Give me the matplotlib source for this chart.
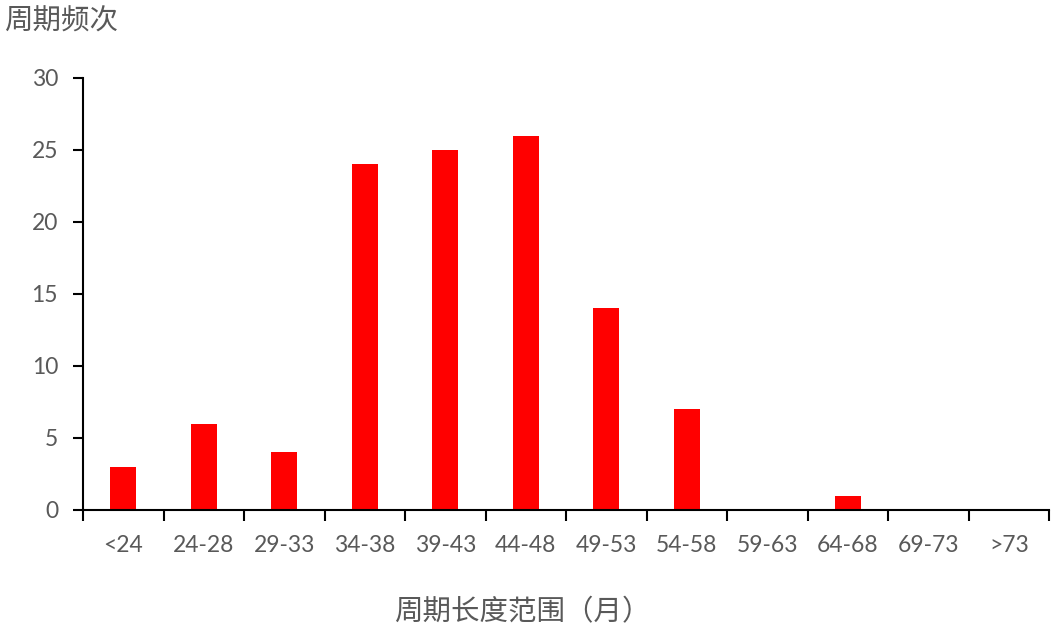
import matplotlib
matplotlib.use('Agg')
import matplotlib.pyplot as plt
import numpy as np

plt.rcParams['font.family'] = ['Lato', 'Noto Sans CJK SC', 'DejaVu Sans']

categories = ['<24', '24-28', '29-33', '34-38', '39-43', '44-48',
              '49-53', '54-58', '59-63', '64-68', '69-73', '>73']
counts = [3, 6, 4, 24, 25, 26, 14, 7, 0, 1, 0, 0]

text_color = '#595959'

fig = plt.figure(figsize=(10.62, 6.33), dpi=100)
ax = fig.add_axes([83 / 1062, 123 / 633, (1049 - 83) / 1062, (510 - 78) / 633])

x = np.arange(len(categories))
ax.bar(x, counts, width=0.32, color='#ff0000', zorder=2)

ax.set_xlim(-0.5, len(categories) - 0.5)
ax.set_ylim(0, 30)
ax.set_yticks(range(0, 31, 5))
ax.set_xticks(x)
ax.set_xticklabels(categories)
ax.set_xticks(np.arange(-0.5, len(categories), 1), minor=True)

ax.tick_params(axis='x', which='major', length=0, pad=18, labelsize=16.5, labelcolor=text_color)
ax.tick_params(axis='x', which='minor', length=8, width=1.5, direction='out', color='black')
ax.tick_params(axis='y', length=7, width=1.5, direction='out', color='black',
               pad=11, labelsize=16.5, labelcolor=text_color)

for side in ['top', 'right']:
    ax.spines[side].set_visible(False)
for side in ['left', 'bottom']:
    ax.spines[side].set_linewidth(1.5)
    ax.spines[side].set_color('black')

fig.text(4 / 1062, 1 - 22 / 633, '周期频次', fontsize=20.5, color=text_color,
         family=['Noto Sans CJK SC'], weight='light', ha='left', va='center')
fig.text(522 / 1062, 1 - 612 / 633, '周期长度范围（月）', fontsize=20.5, color=text_color,
         family=['Noto Sans CJK SC'], weight='light', ha='center', va='center')

plt.savefig('out.png', dpi=100)
